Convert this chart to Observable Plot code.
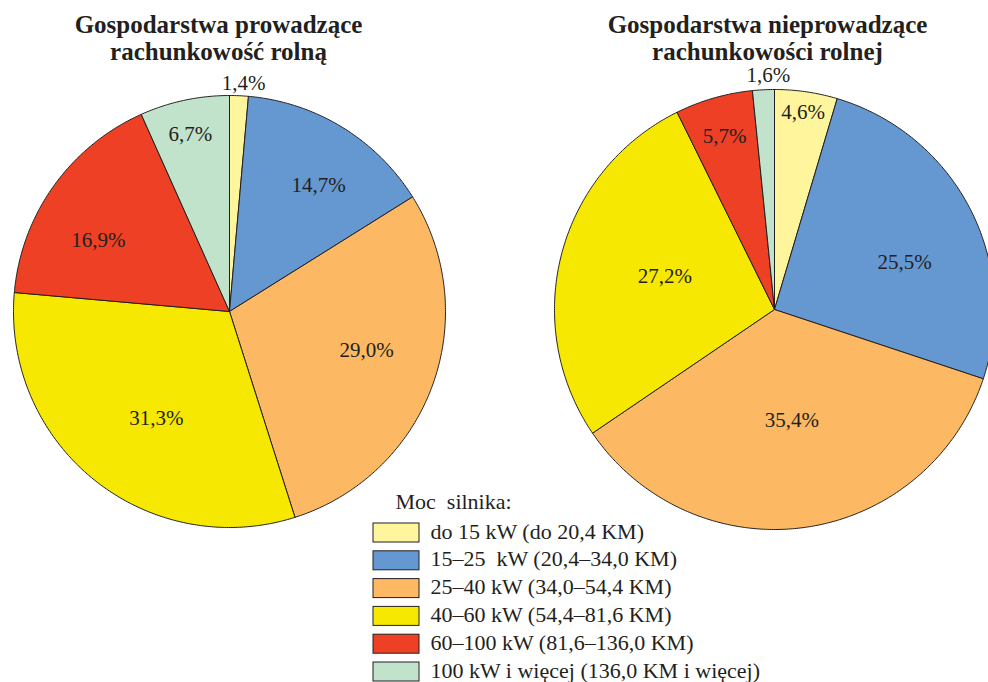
<!DOCTYPE html>
<html>
<head>
<meta charset="utf-8">
<script src="https://cdn.jsdelivr.net/npm/d3@7"></script>
<script src="https://cdn.jsdelivr.net/npm/@observablehq/plot@0.6"></script>
<style>
  html, body { margin: 0; padding: 0; background: #fff; overflow: hidden; }
  #chart svg { display: block; }
</style>
</head>
<body>
<div id="chart"></div>
<script>
// ---- data ----
const categories = [
  "do 15 kW (do 20,4 KM)",
  "15–25  kW (20,4–34,0 KM)",
  "25–40 kW (34,0–54,4 KM)",
  "40–60 kW (54,4–81,6 KM)",
  "60–100 kW (81,6–136,0 KM)",
  "100 kW i więcej (136,0 KM i więcej)"
];
const colors = ["#fff59d", "#6598d0", "#fcb862", "#f6e800", "#ee4024", "#c1e2cb"];
const leftValues = [1.4, 14.7, 29.0, 31.3, 16.9, 6.7];
const rightValues = [4.6, 25.5, 35.4, 27.2, 5.7, 1.6];
const leftTitle = ["Gospodarstwa prowadzące", "rachunkowość rolną"];
const rightTitle = ["Gospodarstwa nieprowadzące", "rachunkowości rolnej"];
const legendTitle = "Moc  silnika:";

// ---- layout ----
const W = 988, H = 682;
const ink = "#231f20";
const pies = [
  {values: leftValues, title: leftTitle, cx: 229, cy: 311, r: 216, titleX: 218,
   labelR: [1.06, 0.715, 0.66, 0.6, 0.69, 0.84], labelDA: [1, 3.7, -4.3, -4.4, -7, -0.4]},
  {values: rightValues, title: rightTitle, cx: 774, cy: 309, r: 220, titleX: 767,
   labelR: [0.905, 0.63, 0.51, 0.52, 0.82, 1.064], labelDA: [0, 7.5, -1, 2, 0, 1.4]}
];
const rad = Math.PI / 180;
const fmt = v => v.toFixed(1).replace(".", ",") + "%";

const slicePts = [];
const labels = [];
const titles = [];
pies.forEach((p, pi) => {
  const arcs = d3.pie().sort(null).value(d => d)(p.values);
  arcs.forEach((a, i) => {
    const key = pi + "-" + i;
    const a0 = a.startAngle, a1 = a.endAngle;
    slicePts.push({key, color: colors[i], x: p.cx, y: p.cy});
    const n = Math.max(2, Math.ceil((a1 - a0) / (0.5 * rad)));
    for (let k = 0; k <= n; k++) {
      const t = a0 + (a1 - a0) * k / n;
      slicePts.push({key, color: colors[i], x: p.cx + p.r * Math.sin(t), y: p.cy - p.r * Math.cos(t)});
    }
    slicePts.push({key, color: colors[i], x: p.cx, y: p.cy});
    const mid = (a0 + a1) / 2 + p.labelDA[i] * rad;
    const lr = p.r * p.labelR[i];
    labels.push({x: p.cx + lr * Math.sin(mid), y: p.cy - lr * Math.cos(mid), text: fmt(p.values[i])});
  });
  p.title.forEach((t, j) => titles.push({x: p.titleX, y: 24 + j * 27, text: t}));
});

const legX = 373, legY0 = 523, legStep = 27.8, swW = 46, swH = 19;
const legend = categories.map((c, i) => ({
  x1: legX, x2: legX + swW, y1: legY0 + i * legStep, y2: legY0 + i * legStep + swH,
  color: colors[i], text: c, tx: legX + swW + 11, ty: legY0 + i * legStep + swH / 2 - 1.5
}));

const chart = Plot.plot({
  width: W, height: H, margin: 0,
  x: {domain: [0, W], range: [0, W], axis: null},
  y: {domain: [0, H], range: [0, H], axis: null},
  style: {fontFamily: "'Liberation Serif', 'Times New Roman', serif", background: "#fff", overflow: "visible"},
  marks: [
    Plot.line(slicePts, {x: "x", y: "y", z: "key", fill: "color", stroke: ink, strokeWidth: 1, strokeLinejoin: "round", curve: "linear"}),
    Plot.text(labels, {x: "x", y: "y", text: "text", fontSize: 21, fill: ink}),
    Plot.text(titles, {x: "x", y: "y", text: "text", fontSize: 25, fontWeight: "bold", fill: ink}),
    Plot.text([legendTitle], {x: () => legX + 22, y: () => 501, text: d => d, fontSize: 22, textAnchor: "start", fill: ink}),
    Plot.rect(legend, {x1: "x1", x2: "x2", y1: "y1", y2: "y2", fill: "color", stroke: ink, strokeWidth: 1}),
    Plot.text(legend, {x: "tx", y: "ty", text: "text", fontSize: 22, textAnchor: "start", fill: ink})
  ]
});
document.getElementById("chart").appendChild(chart);
</script>
</body>
</html>
